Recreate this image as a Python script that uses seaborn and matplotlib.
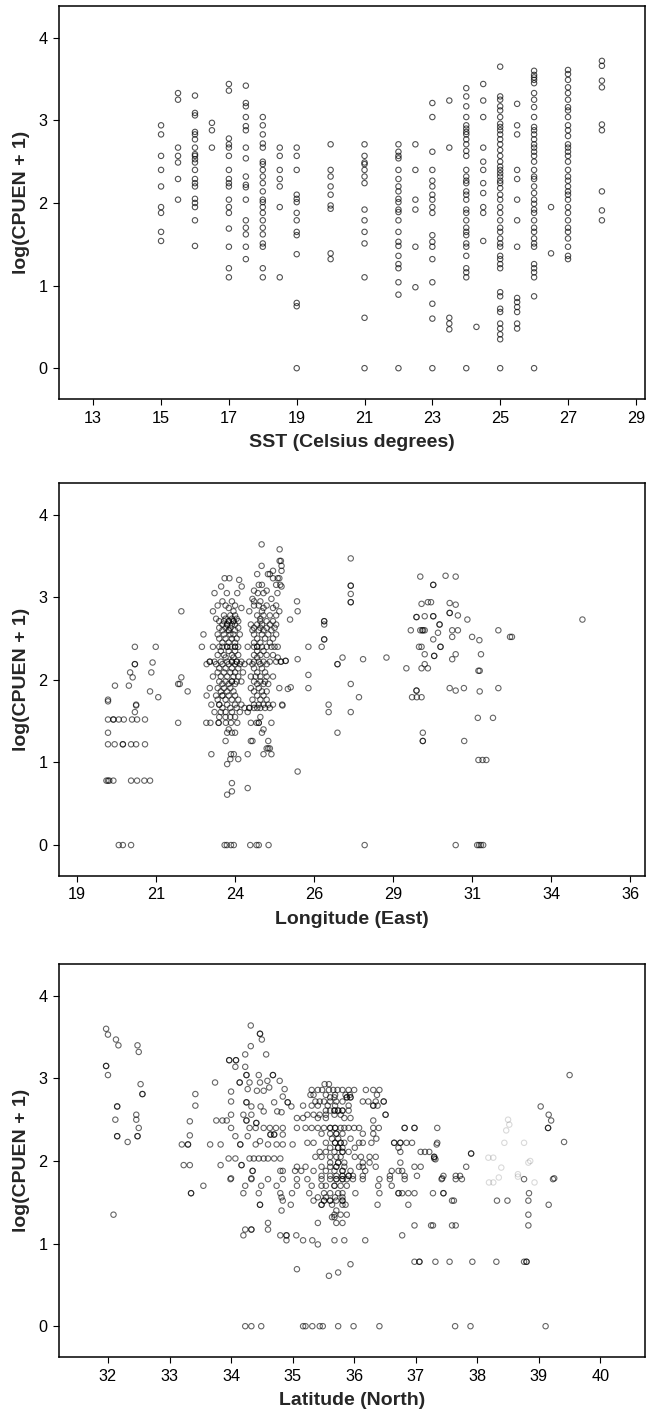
import numpy as np
import pandas as pd
import matplotlib
matplotlib.use("Agg")
import matplotlib.pyplot as plt
import seaborn as sns

sns.set_style("white")
plt.rcParams["font.family"] = ["Liberation Sans", "DejaVu Sans"]

# ---------------- Panel 1: SST ----------------
sst_levels = [15, 15.5, 16, 16.5, 17, 17.5, 18, 18.5, 19, 20, 21, 22, 22.5, 23,
              23.5, 24, 24.3, 24.5, 25, 25.5, 26, 26.5, 27, 28]
sst_cpue = [
    [2.94, 2.83, 2.57, 2.40, 2.20, 1.95, 1.88, 1.65, 1.54],
    [3.33, 3.25, 2.67, 2.57, 2.49, 2.29, 2.04],
    [3.30, 3.09, 3.06, 2.86, 2.83, 2.77, 2.67, 2.59, 2.57, 2.53, 2.49, 2.40, 2.29, 2.24, 2.20, 2.05, 2.00, 1.95, 1.79, 1.48],
    [2.97, 2.88, 2.67],
    [3.44, 3.36, 2.78, 2.71, 2.67, 2.57, 2.40, 2.29, 2.24, 2.20, 2.04, 1.95, 1.88, 1.69, 1.47, 1.21, 1.10],
    [3.42, 3.21, 3.17, 3.04, 2.93, 2.88, 2.67, 2.54, 2.32, 2.22, 2.19, 2.04, 1.79, 1.70, 1.62, 1.47, 1.32],
    [3.04, 2.94, 2.83, 2.72, 2.67, 2.50, 2.47, 2.40, 2.32, 2.24, 2.14, 2.04, 2.01, 1.95, 1.88, 1.79, 1.70, 1.62, 1.51, 1.47, 1.21, 1.10],
    [2.67, 2.57, 2.40, 2.29, 2.20, 1.95, 1.10],
    [2.67, 2.57, 2.40, 2.10, 2.05, 2.01, 1.88, 1.79, 1.65, 1.61, 1.38, 0.79, 0.75, 0.0],
    [2.71, 2.40, 2.32, 2.20, 2.10, 1.97, 1.93, 1.39, 1.32],
    [2.71, 2.57, 2.49, 2.47, 2.40, 2.32, 2.24, 1.92, 1.79, 1.65, 1.51, 1.10, 0.61, 0.0],
    [2.71, 2.62, 2.57, 2.54, 2.40, 2.29, 2.20, 2.14, 2.05, 2.01, 1.92, 1.89, 1.79, 1.65, 1.53, 1.48, 1.36, 1.26, 1.21, 1.04, 0.89, 0.0],
    [2.71, 2.40, 2.04, 1.92, 1.47, 0.98],
    [3.21, 3.04, 2.62, 2.40, 2.27, 2.20, 2.10, 2.04, 1.95, 1.88, 1.61, 1.53, 1.47, 1.32, 1.04, 0.78, 0.60, 0.0],
    [3.24, 2.67, 0.61, 0.54, 0.47],
    [3.39, 3.29, 3.17, 3.04, 2.94, 2.90, 2.86, 2.83, 2.77, 2.71, 2.63, 2.57, 2.40, 2.32, 2.27, 2.24, 2.14, 2.10, 2.04, 1.92, 1.88, 1.79, 1.70, 1.65, 1.61, 1.51, 1.47, 1.36, 1.21, 1.16, 1.10, 0.0],
    [0.50],
    [3.44, 3.24, 3.04, 2.67, 2.50, 2.40, 2.24, 2.12, 1.95, 1.88, 1.54],
    [3.65, 3.29, 3.25, 3.17, 3.12, 3.04, 2.96, 2.92, 2.88, 2.83, 2.77, 2.71, 2.64, 2.57, 2.50, 2.44, 2.40, 2.36, 2.32, 2.27, 2.24, 2.18, 2.10, 2.04, 1.95, 1.88, 1.79, 1.70, 1.65, 1.57, 1.51, 1.47, 1.36, 1.32, 1.26, 1.21, 0.92, 0.87, 0.72, 0.68, 0.54, 0.48, 0.41, 0.35, 0.0],
    [3.20, 2.94, 2.83, 2.40, 2.29, 2.04, 1.79, 1.47, 0.85, 0.80, 0.74, 0.68, 0.54, 0.48],
    [3.60, 3.55, 3.52, 3.49, 3.45, 3.33, 3.25, 3.16, 3.04, 2.92, 2.88, 2.83, 2.77, 2.71, 2.67, 2.62, 2.57, 2.50, 2.40, 2.32, 2.29, 2.20, 2.12, 2.04, 1.99, 1.92, 1.88, 1.79, 1.70, 1.65, 1.57, 1.51, 1.47, 1.26, 1.21, 1.16, 1.10, 0.87, 0.0],
    [1.95, 1.39],
    [3.61, 3.56, 3.49, 3.40, 3.33, 3.25, 3.16, 3.12, 3.04, 2.94, 2.88, 2.81, 2.71, 2.67, 2.62, 2.57, 2.50, 2.40, 2.32, 2.27, 2.20, 2.14, 2.10, 2.04, 1.95, 1.88, 1.79, 1.70, 1.65, 1.57, 1.47, 1.36, 1.32],
    [3.72, 3.66, 3.48, 3.40, 2.95, 2.88, 2.14, 1.91, 1.79],
]
sst_ticks = [13, 15, 17, 19, 21, 23, 25, 27, 29]

# ---------------- Panel 2: Longitude ----------------
lon_west = [(19.98, 1.74), (20.2, 1.93), (20.64, 1.93), (20.68, 2.09), (20.76, 2.03),
            (20.83, 2.19), (20.83, 2.19), (20.83, 2.40), (20.87, 1.69), (21.31, 1.86),
            (21.35, 2.09), (21.39, 2.21), (21.49, 2.40), (21.57, 1.79), (22.2, 1.95),
            (22.25, 1.95), (22.3, 2.03), (22.3, 2.83), (22.5, 1.86), (19.98, 1.76),
            (19.98, 1.36), (20.83, 1.61), (20.87, 1.70), (22.2, 1.48),
            (19.98, 1.52), (20.15, 1.52), (20.15, 1.52), (20.32, 1.52), (20.48, 1.52),
            (20.74, 1.52), (20.9, 1.52), (21.15, 1.52),
            (19.98, 1.22), (20.19, 1.22), (20.45, 1.22), (20.45, 1.22), (20.71, 1.22),
            (20.87, 1.22), (21.15, 1.22),
            (19.93, 0.78), (19.98, 0.78), (20.02, 0.78), (20.15, 0.78), (20.71, 0.78),
            (20.9, 0.78), (21.13, 0.78), (21.31, 0.78),
            (20.32, 0.0), (20.45, 0.0), (20.71, 0.0)]
lon_main_rows = [
    (3.64, [24.84]), (3.58, [25.41]), (3.44, [25.41, 25.45]), (3.38, [24.84, 25.47]),
    (3.32, [25.2, 25.47]), (3.28, [24.7, 25.04, 25.1]),
    (3.23, [23.67, 23.82, 25.2, 25.35, 25.4]), (3.21, [24.13]),
    (3.15, [24.75, 24.85, 25.3, 25.43]), (3.13, [23.56, 24.21, 25.47]),
    (3.08, [24.6, 25.0]), (3.05, [23.35, 23.74, 24.07, 24.72, 24.9, 25.34]),
    (2.98, [24.55, 25.15]), (2.95, [23.6, 23.9, 24.6, 24.8]),
    (2.90, [23.45, 23.7, 24.0, 24.6, 24.75, 25.0, 25.3]),
    (2.87, [23.8, 24.2, 24.9, 25.2]),
    (2.83, [23.3, 23.95, 24.45, 24.85, 25.4]),
    (2.78, [23.65, 23.85, 24.0, 24.7, 24.9, 25.1, 25.3]),
    (2.74, [23.4, 23.7, 23.9, 24.05, 24.8]),
    (2.71, [23.5, 23.65, 23.8, 23.95, 24.1, 24.8, 25.0, 25.2, 23.8, 23.95]),
    (2.67, [23.6, 23.75, 23.9, 24.0, 24.5, 24.7, 24.85, 25.1, 25.3, 23.75]),
    (2.63, [23.5, 23.7, 23.85, 24.1, 24.6, 24.8, 25.0, 25.25]),
    (2.60, [23.6, 23.8, 24.0, 24.55, 24.75, 24.9, 25.15, 23.8]),
    (2.55, [23.0, 23.45, 23.65, 23.85, 23.95, 24.15, 24.6, 24.85, 25.05, 25.3]),
    (2.50, [23.5, 23.7, 23.9, 24.05, 24.7, 24.95, 25.2]),
    (2.45, [23.6, 23.8, 24.0, 24.6, 24.8, 25.1]),
    (2.40, [22.95, 23.3, 23.5, 23.6, 23.75, 23.85, 24.0, 24.1, 24.4, 24.6, 24.7, 24.85,
            25.0, 25.15, 25.25, 25.35, 23.75, 24.0, 24.7]),
    (2.35, [23.55, 23.8, 24.0, 24.7, 24.9]),
    (2.30, [23.45, 23.65, 23.9, 24.1, 24.6, 24.8, 25.0, 25.2]),
    (2.27, [23.7, 23.95, 24.7, 25.35]),
    (2.22, [23.2, 23.35, 23.55, 23.75, 23.9, 24.05, 24.2, 24.45, 24.6, 24.75, 24.9,
            25.1, 25.3, 25.45, 23.2, 23.9, 24.05, 25.45]),
    (2.19, [23.1, 23.4, 23.6, 23.8, 24.0, 24.15, 24.3, 24.55, 24.8, 25.0]),
    (2.14, [23.5, 23.7, 23.9, 24.1, 24.6, 24.85]),
    (2.09, [23.45, 23.65, 23.85, 24.0, 24.25, 24.7, 24.95]),
    (2.04, [23.3, 23.55, 23.75, 23.95, 24.1, 24.5, 24.65, 24.8, 25.0, 25.2]),
    (1.98, [23.5, 23.7, 23.9, 24.05, 24.2, 24.6, 24.8, 24.95, 23.9]),
    (1.95, [23.6, 23.8, 24.0, 24.7, 24.9, 25.05]),
    (1.90, [23.2, 23.45, 23.65, 23.85, 24.5, 24.75, 25.4]),
    (1.86, [23.55, 23.75, 23.95, 24.6, 24.85, 25.0]),
    (1.81, [23.1, 23.4, 23.6, 23.8, 24.0, 24.7, 24.9, 23.6]),
    (1.76, [23.45, 23.7, 23.9, 24.1, 24.55, 24.8, 25.0]),
    (1.70, [23.25, 23.5, 23.75, 24.0, 24.2, 24.6, 24.75, 24.9, 25.05, 25.2, 25.49, 23.5]),
    (1.66, [23.6, 23.85, 24.05, 24.3, 24.45, 24.6, 24.7, 24.8, 24.95, 25.1, 24.45]),
    (1.61, [23.35, 23.55, 23.7, 23.9, 24.15, 24.4]),
    (1.55, [23.5, 23.7, 23.85, 24.0, 24.8]),
    (1.48, [23.09, 23.22, 23.48, 23.71, 23.87, 24.07, 24.5, 24.68, 24.75, 25.15, 23.48, 24.75]),
    (1.40, [23.8, 24.9]),
    (1.36, [23.75, 23.9, 24.0, 24.85]),
    (1.26, [23.7, 24.5, 24.55, 25.05]),
    (1.17, [25.0, 25.05, 25.1]),
    (1.10, [23.25, 23.87, 23.96, 24.4, 24.9, 25.15]),
    (1.04, [23.85, 24.1]),
    (0.98, [23.75]), (0.75, [23.9]), (0.69, [24.4]), (0.65, [23.9]), (0.61, [23.75]),
    (0.0, [23.67, 23.74, 23.87, 23.96, 24.48, 24.68, 24.75, 25.06]),
]
lon_mid = [(25.96, 2.95), (25.98, 2.83), (25.74, 2.73), (25.98, 2.25), (25.67, 1.89),
           (25.76, 1.91), (25.5, 1.69), (25.6, 2.23), (25.6, 2.23), (26.32, 2.40),
           (26.32, 2.06), (26.32, 1.90), (26.74, 2.40), (26.82, 2.71), (26.82, 2.71),
           (26.82, 2.67), (26.82, 2.49), (26.82, 2.49), (26.96, 1.70), (26.96, 1.61),
           (27.24, 2.19), (27.24, 2.19), (27.4, 2.27), (27.66, 3.47), (27.66, 3.14),
           (27.66, 3.14), (27.66, 3.04), (27.66, 2.94), (27.66, 2.94), (27.66, 1.95),
           (27.92, 1.79), (28.05, 2.25), (28.79, 2.27), (27.24, 1.36), (27.66, 1.61),
           (25.98, 0.89), (28.1, 0.0)]
lon_east = [(29.42, 2.14), (29.56, 2.60), (29.74, 2.76), (29.74, 2.76), (29.86, 3.25),
            (29.9, 2.92), (30.0, 2.77), (30.1, 2.94), (30.2, 2.94), (30.27, 3.15),
            (30.27, 3.15), (30.27, 2.77), (30.27, 2.77), (29.86, 2.60), (29.92, 2.60),
            (30.0, 2.60), (29.95, 2.60), (29.82, 2.40), (29.9, 2.40), (30.0, 2.31),
            (30.0, 2.19), (29.9, 2.14), (30.1, 2.14), (30.3, 2.29), (30.3, 2.29),
            (30.5, 2.40), (30.5, 2.40), (30.47, 2.67), (30.47, 2.67), (30.42, 2.57),
            (30.27, 2.49), (30.66, 3.26), (30.79, 2.93), (30.79, 2.81), (30.79, 2.81),
            (30.98, 3.25), (30.98, 2.91), (31.05, 2.78), (31.35, 2.73), (30.87, 2.60),
            (31.05, 2.60), (30.87, 2.52), (31.5, 2.52), (31.73, 2.48), (30.98, 2.31),
            (30.87, 2.25), (31.78, 2.31), (31.74, 2.11), (31.7, 2.11), (30.79, 1.90),
            (30.98, 1.87), (31.24, 1.90), (31.74, 1.86), (32.33, 1.90), (32.33, 2.60),
            (32.7, 2.52), (32.76, 2.52), (34.99, 2.73), (29.74, 1.87), (29.74, 1.87),
            (29.6, 1.79), (29.75, 1.79), (29.9, 1.79), (29.94, 1.36), (29.94, 1.26),
            (29.94, 1.26), (31.25, 1.26), (31.68, 1.54), (32.16, 1.54), (31.7, 1.03),
            (31.83, 1.03), (31.95, 1.03), (30.98, 0.0), (31.66, 0.0), (31.72, 0.0),
            (31.78, 0.0), (31.85, 0.0)]
lon_tick_pos = [19, 21.5, 24, 26.5, 29, 31.5, 34, 36.5]
lon_tick_labels = ["19", "21", "24", "26", "29", "31", "34", "36"]

# ---------------- Panel 3: Latitude ----------------
lat_main_rows = [
    (2.86, [35.31, 35.41, 35.48, 35.59, 35.66, 35.73, 35.81, 35.91, 36.0, 36.19, 36.31, 36.41]),
    (2.93, [35.59, 35.52]),
    (2.80, [35.29, 35.34, 35.54, 35.69, 35.86, 35.93, 36.37]),
    (2.77, [35.61, 35.68, 35.88, 35.94, 35.88, 35.94]),
    (2.72, [35.37, 35.44, 35.51, 35.61, 35.71, 35.81, 36.14, 36.23, 36.35, 36.48, 36.48]),
    (2.67, [35.17, 35.31, 35.41, 35.57, 35.69, 35.91, 36.31, 36.31, 36.38]),
    (2.61, [35.54, 35.61, 35.68, 35.74, 35.81, 35.91, 35.68, 35.74, 35.81]),
    (2.56, [35.24, 35.34, 35.44, 35.54, 35.68, 35.78, 36.51, 36.51]),
    (2.52, [35.07, 35.17, 35.41, 35.54, 35.84, 35.94]),
    (2.49, [36.31]),
    (2.40, [35.07, 35.21, 35.31, 35.41, 35.51, 35.61, 35.69, 35.78, 35.84, 35.91, 36.0,
            36.08, 36.31, 36.40, 36.82, 36.98, 36.98, 35.61, 35.69]),
    (2.33, [35.47, 35.61, 35.71, 35.81, 36.14, 36.31, 35.71]),
    (2.27, [35.64, 35.74, 35.94, 36.36]),
    (2.22, [35.24, 35.34, 35.54, 35.69, 35.78, 35.84, 36.08, 36.14, 36.28, 36.65, 36.75,
            36.85, 36.94, 37.35, 35.69, 35.78, 36.65, 36.75]),
    (2.16, [35.61, 35.74, 35.81, 36.01, 36.72, 35.74]),
    (2.11, [35.44, 35.54, 35.68, 35.81, 35.91, 36.75, 37.08, 37.15, 37.22, 35.81]),
    (2.05, [35.37, 35.47, 35.61, 35.71, 35.78, 36.01, 36.11, 36.25, 36.35, 37.30, 37.30]),
    (2.02, [37.32]),
    (1.98, [35.61, 35.74, 35.84, 36.14, 36.25, 36.75, 35.74]),
    (1.93, [35.07, 35.21, 35.47, 35.61, 35.71, 35.84, 36.08, 36.14, 36.35, 36.98, 37.08,
            37.82, 35.71]),
    (1.88, [34.84, 35.04, 35.14, 35.34, 35.54, 35.68, 35.81, 35.94, 36.18, 36.61, 36.72,
            36.78, 35.81]),
    (1.82, [35.47, 35.61, 35.71, 35.81, 35.91, 35.98, 36.14, 36.58, 36.82, 37.02, 37.45,
            37.65, 37.72, 35.81, 35.91]),
    (1.78, [33.99, 34.33, 34.60, 34.84, 35.07, 35.24, 35.47, 35.61, 35.71, 35.81, 35.88,
            35.98, 36.14, 36.41, 36.58, 36.82, 37.42, 37.65, 37.75, 38.76, 39.23, 35.71, 35.81]),
    (1.70, [33.55, 34.23, 34.49, 34.74, 35.07, 35.31, 35.47, 35.54, 35.68, 35.78, 35.88,
            36.39, 36.61, 35.68]),
    (1.61, [33.35, 33.35, 34.20, 34.45, 34.80, 34.99, 35.27, 35.51, 35.61, 35.74, 35.81,
            36.02, 36.41, 36.72, 36.78, 36.88, 36.98, 37.28, 37.45, 38.84, 36.72, 37.45]),
    (1.56, [34.82, 35.41, 35.54, 35.69, 35.81]),
    (1.52, [34.84, 35.34, 35.51, 35.61, 35.71, 35.81, 37.59, 37.62, 38.32, 38.49, 38.83,
            35.51, 35.61, 35.81]),
    (1.47, [34.47, 34.97, 35.47, 35.64, 35.81, 35.86, 36.38, 36.88, 39.16, 34.47, 35.47]),
    (1.40, [34.82, 35.71]),
    (1.35, [32.09, 35.68, 35.78, 35.88, 38.83]),
    (1.32, [35.64, 35.68]),
    (1.25, [34.60, 35.41, 35.71, 35.81]),
    (1.22, [36.98, 37.25, 37.28, 37.59, 37.65, 38.83]),
    (1.17, [34.23, 34.33, 34.60, 34.33]),
    (1.10, [34.20, 34.80, 34.90, 35.06, 36.78, 34.90]),
    (1.04, [34.90, 35.17, 35.32, 35.68, 35.84, 36.18]),
    (0.99, [35.41]),
    (0.78, [36.98, 37.06, 37.32, 37.55, 37.92, 38.31, 38.76, 38.80, 37.06, 38.80]),
    (0.75, [35.94]), (0.69, [35.07]), (0.65, [35.74]), (0.61, [35.59]),
    (0.0, [34.23, 34.33, 34.49, 35.17, 35.21, 35.32, 35.44, 35.49, 35.74, 35.99, 36.41,
           37.64, 37.89, 39.11]),
]
lat_west = [(34.32, 3.64), (34.47, 3.54), (34.47, 3.54), (34.5, 3.47), (34.32, 3.39),
            (34.57, 3.29), (34.23, 3.29), (33.97, 3.22), (33.97, 3.22), (34.08, 3.22),
            (34.08, 3.22), (34.07, 3.14), (34.23, 3.14), (34.25, 3.04), (34.25, 3.04),
            (34.45, 3.04), (34.68, 3.04), (34.68, 3.04), (34.14, 2.95), (34.14, 2.95),
            (34.3, 2.95), (34.47, 2.95), (34.59, 2.97), (34.0, 2.84), (34.27, 2.87),
            (34.42, 2.85), (34.53, 2.85), (34.62, 2.89), (34.87, 2.87), (34.79, 2.97),
            (34.0, 2.72), (34.25, 2.71), (34.25, 2.71), (34.33, 2.66), (34.48, 2.66),
            (34.7, 2.71), (34.84, 2.78), (34.92, 2.71), (34.92, 2.71), (34.98, 2.66),
            (34.0, 2.56), (34.2, 2.56), (34.33, 2.56), (34.53, 2.60), (34.75, 2.60),
            (34.82, 2.59), (33.76, 2.49), (33.86, 2.49), (33.93, 2.49), (34.0, 2.40),
            (34.25, 2.49), (34.25, 2.49), (34.41, 2.46), (34.41, 2.46), (34.3, 2.40),
            (34.4, 2.40), (34.53, 2.40), (34.63, 2.40), (34.73, 2.40), (34.84, 2.40),
            (34.07, 2.30), (34.27, 2.30), (34.64, 2.32), (34.64, 2.32), (34.7, 2.32),
            (34.7, 2.32), (34.84, 2.32), (34.15, 2.20), (34.15, 2.20), (34.4, 2.20),
            (34.47, 2.24), (34.6, 2.20), (34.74, 2.20), (34.84, 2.20), (35.0, 2.20),
            (33.96, 2.03), (34.07, 2.03), (34.17, 1.95), (34.17, 1.95), (34.3, 2.03),
            (34.37, 2.03), (34.45, 2.03), (34.53, 2.03), (34.6, 2.03), (34.7, 2.03),
            (34.8, 2.03), (34.35, 1.88), (34.35, 1.88), (34.0, 1.79), (34.33, 1.79),
            (34.8, 1.88),
            (31.97, 3.60), (32.0, 3.53), (32.13, 3.47), (32.17, 3.40), (31.97, 3.15),
            (31.97, 3.15), (32.0, 3.04), (32.48, 3.40), (32.5, 3.32), (32.53, 2.93),
            (32.56, 2.81), (32.56, 2.81), (32.15, 2.66), (32.15, 2.66), (32.12, 2.50),
            (32.15, 2.30), (32.15, 2.30), (32.32, 2.23), (32.46, 2.56), (32.46, 2.50),
            (32.5, 2.40), (32.48, 2.30), (32.48, 2.30),
            (33.2, 2.20), (33.3, 2.20), (33.3, 2.20), (33.23, 1.95), (33.33, 1.95),
            (33.33, 2.31), (33.33, 2.48), (33.42, 2.67), (33.42, 2.81), (33.74, 2.95),
            (33.66, 2.20), (33.83, 2.20), (33.83, 1.95)]
lat_east = [(37.9, 2.09), (37.9, 2.09), (37.43, 1.79), (37.35, 2.40), (37.34, 2.20),
            (37.3, 2.03), (36.82, 2.40), (39.03, 2.66), (39.16, 2.56), (39.2, 2.49),
            (39.15, 2.40), (39.15, 2.40), (39.41, 2.23), (39.5, 3.04), (39.25, 1.79)]
lat_faint = [(38.5, 2.50), (38.52, 2.44), (38.44, 2.22), (38.76, 2.22), (38.86, 2.00),
             (38.83, 1.98), (38.18, 2.04), (38.26, 2.04), (38.39, 1.92), (38.66, 1.84),
             (38.47, 2.37), (38.19, 1.74), (38.26, 1.74), (38.35, 1.80), (38.66, 1.81),
             (38.93, 1.74)]
lat_ticks = [32, 33, 34, 35, 36, 37, 38, 39, 40]

y_ticks = [0, 1, 2, 3, 4]


def rows_to_frame(rows):
    xs, ys = [], []
    for yv, xl in rows:
        xs.extend(xl)
        ys.extend([yv] * len(xl))
    return pd.DataFrame({"x": xs, "y": ys})


def pts_to_frame(pts):
    return pd.DataFrame({"x": [p[0] for p in pts], "y": [p[1] for p in pts]})


sst_df = pd.DataFrame({
    "x": [lv for lv, vals in zip(sst_levels, sst_cpue) for _ in vals],
    "y": [v for vals in sst_cpue for v in vals],
})
lon_df = pd.concat([pts_to_frame(lon_west), rows_to_frame(lon_main_rows),
                    pts_to_frame(lon_mid), pts_to_frame(lon_east)], ignore_index=True)
lat_df = pd.concat([rows_to_frame(lat_main_rows), pts_to_frame(lat_west),
                    pts_to_frame(lat_east)], ignore_index=True)
lat_faint_df = pts_to_frame(lat_faint)

fig = plt.figure(figsize=(6.47, 14.13), dpi=100)
ax_w = 0.9057
ax_h = 0.2777
axes = [fig.add_axes([0.0917, b, ax_w, ax_h]) for b in (0.7178, 0.3803, 0.0398)]

mk = dict(marker="o", s=15, facecolor="none", edgecolor="black", linewidth=0.8)

sns.scatterplot(data=sst_df, x="x", y="y", ax=axes[0], alpha=0.68, **mk)
sns.scatterplot(data=lon_df, x="x", y="y", ax=axes[1], alpha=0.6, **mk)
sns.scatterplot(data=lat_df, x="x", y="y", ax=axes[2], alpha=0.6, **mk)
sns.scatterplot(data=lat_faint_df, x="x", y="y", ax=axes[2], alpha=0.15, **mk)

axes[0].set_xlim(12.0, 29.28)
axes[0].set_xticks(sst_ticks)
axes[0].set_xticklabels([str(t) for t in sst_ticks])
axes[1].set_xlim(18.44, 36.98)
axes[1].set_xticks(lon_tick_pos)
axes[1].set_xticklabels(lon_tick_labels)
axes[2].set_xlim(31.21, 40.73)
axes[2].set_xticks(lat_ticks)
axes[2].set_xticklabels([str(t) for t in lat_ticks])

xlabels = ["SST (Celsius degrees)", "Longitude (East)", "Latitude (North)"]
for ax, xl in zip(axes, xlabels):
    ax.set_ylim(-0.37, 4.38)
    ax.set_yticks(y_ticks)
    ax.set_yticklabels([str(t) for t in y_ticks])
    ax.tick_params(axis="both", direction="out", length=4.5, width=0.8,
                   labelsize=11.7, pad=4, colors="black", bottom=True, left=True)
    for sp in ax.spines.values():
        sp.set_visible(True)
        sp.set_color("black")
        sp.set_linewidth(1.1)
    ax.set_xlabel(xl, fontsize=14, fontweight="bold")
    ax.set_ylabel("log(CPUEN + 1)", fontsize=14, fontweight="bold")
    ax.xaxis.set_label_coords(0.5, -0.09)
    ax.yaxis.set_label_coords(-0.05, 0.5)
    ax.grid(False)

fig.savefig("out.png", dpi=100, facecolor="white")
